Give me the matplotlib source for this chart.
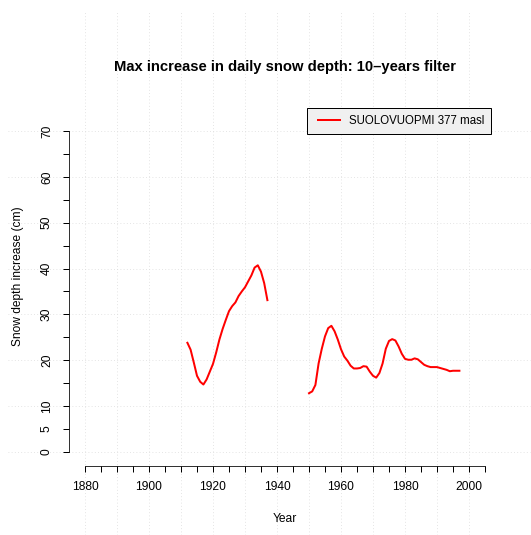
import numpy as np
import matplotlib
matplotlib.use("Agg")
import matplotlib.pyplot as plt
from matplotlib.legend_handler import HandlerLine2D

plt.rcParams['font.family'] = ['Liberation Sans', 'DejaVu Sans']

# data (10-year filtered max daily snow depth increase)
years_a = list(range(1912, 1938))
depth_a = [23.8, 22.3, 19.5, 16.6, 15.3, 14.7, 15.8, 17.5, 19.2, 21.7,
           24.5, 26.8, 28.8, 30.7, 31.8, 32.6, 34.0, 35.0, 35.9, 37.2,
           38.5, 40.2, 40.7, 39.3, 36.8, 33.1]

years_b = list(range(1950, 1998))
depth_b = [12.8, 13.2, 14.6, 19.3, 22.5, 25.2, 27.0, 27.5, 26.3, 24.5,
           22.4, 20.8, 19.9, 18.8, 18.2, 18.2, 18.3, 18.7, 18.6, 17.5,
           16.6, 16.2, 17.2, 19.3, 22.5, 24.2, 24.6, 24.3, 23.0, 21.4,
           20.3, 20.1, 20.1, 20.4, 20.2, 19.6, 19.0, 18.7, 18.5, 18.5,
           18.5, 18.3, 18.1, 17.9, 17.6, 17.7, 17.7, 17.7]

station = "SUOLOVUOPMI 377 masl"
x_ticks = list(range(1880, 2006, 5))
x_labels = [str(t) if t % 20 == 0 else "" for t in x_ticks]
y_ticks = list(range(0, 71, 5))
y_labels = [str(t) if (t % 10 == 0 or t == 5) else "" for t in y_ticks]
grid_x = list(range(1880, 2001, 10))
grid_y = list(range(0, 71, 10))

W, H = 531, 535
fig = plt.figure(figsize=(W / 72, H / 72), dpi=72)
# plot region in pixels: left 69, right 501, top 86, bottom 466
ax = fig.add_axes([69 / W, (H - 466) / H, 432 / W, 380 / H])

# dotted grid running across the whole figure
ax.hlines(grid_y, 1855.9, 2019, colors='#d9d9d9', linestyles=(0, (1, 3)),
          linewidth=0.8, clip_on=False, zorder=0)
ax.vlines(grid_x, -18.1, 95.9, colors='#d9d9d9', linestyles=(0, (1, 3)),
          linewidth=0.8, clip_on=False, zorder=0)

line_a, = ax.plot(years_a, depth_a, color='red', lw=2, label=station)
ax.plot(years_b, depth_b, color='red', lw=2)

ax.set_xlim(1875, 2010)
ax.set_ylim(-3.07, 79.8)

for s in ['top', 'right']:
    ax.spines[s].set_visible(False)
ax.spines['left'].set_bounds(0, 70)
ax.spines['bottom'].set_bounds(1880, 2005)

ax.set_xticks(x_ticks)
ax.set_xticklabels(x_labels)
ax.set_yticks(y_ticks)
ax.set_yticklabels(y_labels)
ax.tick_params(axis='both', length=6, width=1, labelsize=12, color='black')
ax.tick_params(axis='x', pad=9)
ax.tick_params(axis='y', pad=10)
for lbl in ax.get_yticklabels():
    lbl.set_rotation(90)
    lbl.set_va('center')

ax.set_xlabel('Year', fontsize=12, va='center')
ax.xaxis.set_label_coords(0.5, -0.1395)
ax.set_ylabel('Snow depth increase (cm)', fontsize=12, va='center')
ax.yaxis.set_label_coords(-0.118, 0.5)

ax.text(0.5, 1.05, 'Max increase in daily snow depth: 10–years filter',
        transform=ax.transAxes, ha='center', va='center',
        fontsize=14.7, fontweight='bold')

leg = ax.legend(loc='upper right', bbox_to_anchor=(491 / W, 1 - 108 / H),
                bbox_transform=fig.transFigure, borderaxespad=0,
                fontsize=11.5, handlelength=2.21, handletextpad=0.78,
                borderpad=0.6, fancybox=False, framealpha=1,
                handler_map={line_a: HandlerLine2D(xpad=0.3)})
leg.get_frame().set_facecolor('#f0f0f0')
leg.get_frame().set_edgecolor('black')
leg.get_frame().set_linewidth(1)

fig.savefig('out.png', dpi=72)
